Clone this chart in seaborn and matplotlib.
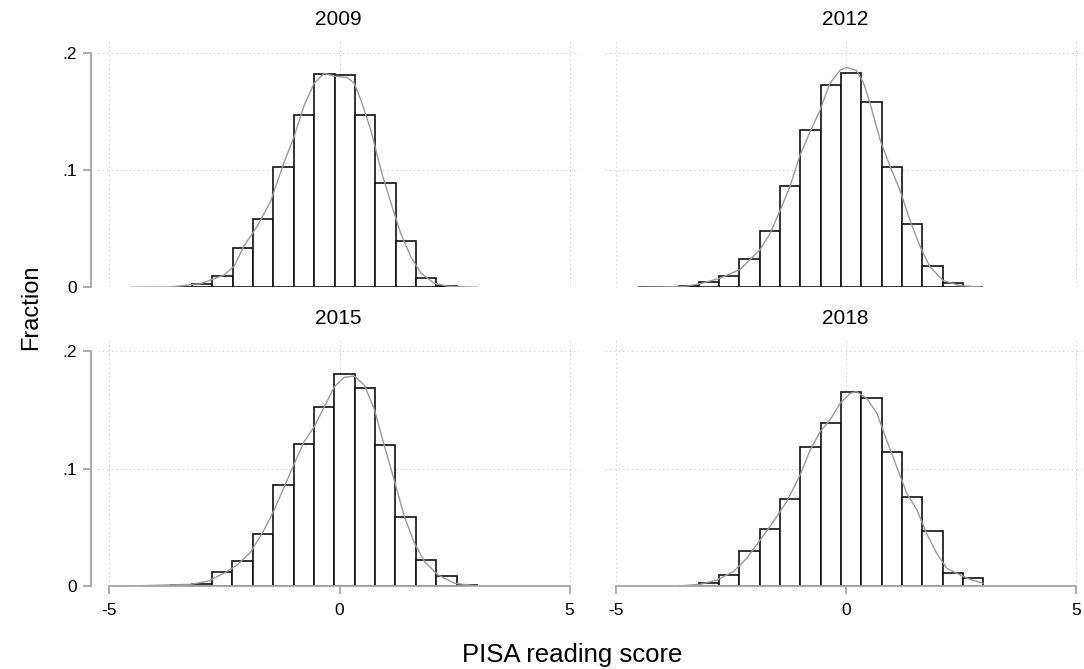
import pandas as pd
import matplotlib
matplotlib.use("Agg")
import matplotlib.pyplot as plt
import seaborn as sns

# values
years = ["2009", "2012", "2015", "2018"]

edges_2009 = [-3.651, -3.208, -2.765, -2.322, -1.879, -1.436, -0.993, -0.550,
              -0.107, 0.336, 0.779, 1.222, 1.665, 2.108, 2.551]
frac_2009 = [0.0006, 0.0026, 0.0094, 0.0338, 0.0582, 0.1028, 0.1469, 0.1818,
             0.1807, 0.1469, 0.0886, 0.0392, 0.0082, 0.0011]
kde_x_2009 = [-4.54, -3.65, -3.02, -2.51, -2.29, -2.08, -1.79, -1.50, -1.21, -0.99,
              -0.77, -0.55, -0.335, -0.12, 0.17, 0.32, 0.46, 0.68, 0.90, 1.12,
              1.33, 1.55, 1.77, 2.06, 2.35, 3.00]
kde_y_2009 = [0.0, 0.0003, 0.003, 0.0105, 0.018, 0.035, 0.052, 0.073, 0.106, 0.128,
              0.155, 0.174, 0.1824, 0.180, 0.1787, 0.174, 0.160, 0.134, 0.100, 0.0716,
              0.046, 0.026, 0.012, 0.0034, 0.0009, 0.0]

edges_2012 = [-4.526, -4.084, -3.642, -3.201, -2.759, -2.317, -1.875, -1.433, -0.992,
              -0.550, -0.108, 0.334, 0.776, 1.217, 1.659, 2.101, 2.543, 2.985]
frac_2012 = [0.0003, 0.0004, 0.0008, 0.0043, 0.0097, 0.0239, 0.0483, 0.0866, 0.1341,
             0.1724, 0.1830, 0.1577, 0.1023, 0.0540, 0.0185, 0.0037, 0.0006]
kde_x_2012 = [-4.53, -3.53, -3.17, -2.74, -2.30, -1.87, -1.65, -1.43, -1.22, -1.00,
              -0.78, -0.565, -0.35, -0.13, 0.014, 0.23, 0.38, 0.52, 0.74, 0.956,
              1.17, 1.39, 1.61, 1.82, 2.11, 2.48, 2.98]
kde_y_2012 = [0.0, 0.0006, 0.003, 0.0077, 0.0153, 0.032, 0.046, 0.066, 0.0858, 0.1128,
              0.1327, 0.151, 0.174, 0.185, 0.1875, 0.1847, 0.174, 0.157, 0.1256, 0.103,
              0.083, 0.057, 0.0347, 0.0176, 0.0057, 0.0014, 0.0]

edges_2015 = [-4.540, -4.097, -3.655, -3.212, -2.769, -2.327, -1.884, -1.441, -0.998,
              -0.556, -0.113, 0.330, 0.772, 1.215, 1.658, 2.101, 2.543, 2.986]
frac_2015 = [0.0002, 0.0003, 0.0005, 0.0020, 0.0116, 0.0210, 0.0443, 0.0862, 0.1211,
             0.1526, 0.1807, 0.1688, 0.1203, 0.0587, 0.0218, 0.0085, 0.0006]
kde_x_2015 = [-4.54, -3.23, -2.87, -2.51, -2.22, -1.93, -1.64, -1.42, -1.20, -0.98,
              -0.77, -0.55, -0.33, -0.11, 0.10, 0.32, 0.54, 0.76, 0.98, 1.19,
              1.41, 1.63, 1.85, 2.14, 2.50, 3.00]
kde_y_2015 = [0.0, 0.0014, 0.004, 0.0108, 0.018, 0.029, 0.0477, 0.0647, 0.0845, 0.1044,
              0.1228, 0.1356, 0.1526, 0.1697, 0.1776, 0.1787, 0.171, 0.150, 0.1186, 0.090,
              0.059, 0.0363, 0.0207, 0.0094, 0.0023, 0.0]

edges_2018 = [-3.642, -3.201, -2.759, -2.317, -1.875, -1.433, -0.992, -0.550, -0.108,
              0.334, 0.776, 1.217, 1.659, 2.101, 2.543, 2.985]
frac_2018 = [0.0003, 0.0023, 0.0096, 0.0298, 0.0488, 0.0738, 0.1183, 0.1387, 0.1654,
             0.1597, 0.1138, 0.0755, 0.0465, 0.0108, 0.0068]
kde_x_2018 = [-3.64, -3.17, -2.81, -2.45, -2.16, -1.87, -1.58, -1.29, -1.00, -0.78,
              -0.565, -0.35, -0.13, 0.087, 0.23, 0.45, 0.67, 0.88, 1.10, 1.32,
              1.54, 1.75, 1.97, 2.19, 2.48, 2.69, 2.98]
kde_y_2018 = [0.0, 0.0014, 0.005, 0.0122, 0.0235, 0.039, 0.0548, 0.0718, 0.0945, 0.1157,
              0.1313, 0.1413, 0.1555, 0.164, 0.1654, 0.1597, 0.147, 0.1243, 0.1016, 0.0789,
              0.0647, 0.0448, 0.0278, 0.015, 0.0094, 0.0057, 0.0023]

x_ticks = [-5, 0, 5]
x_ticklabels = ["-5", "0", "5"]
y_ticks = [0, 0.1, 0.2]
y_ticklabels = ["0", ".1", ".2"]

edges = [edges_2009, edges_2012, edges_2015, edges_2018]
fracs = [frac_2009, frac_2012, frac_2015, frac_2018]
kde_x = [kde_x_2009, kde_x_2012, kde_x_2015, kde_x_2018]
kde_y = [kde_y_2009, kde_y_2012, kde_y_2015, kde_y_2018]

sns.set_style("white")
plt.rcParams['font.family'] = ['Liberation Sans', 'DejaVu Sans']
plt.rcParams['text.color'] = 'black'

fig = plt.figure(figsize=(10.84, 6.69), dpi=100)

# panel boxes in figure fractions
positions = [[0.0904, 0.5706, 0.4435, 0.370],
             [0.5577, 0.5706, 0.4435, 0.370],
             [0.0904, 0.1241, 0.4435, 0.3705],
             [0.5577, 0.1241, 0.4435, 0.3705]]

axis_grey = "#a6a6a6"

for i, year in enumerate(years):
    ax = fig.add_axes(positions[i])
    e = edges[i]
    df = pd.DataFrame({"mid": [(a + b) / 2 for a, b in zip(e[:-1], e[1:])],
                       "frac": fracs[i]})
    sns.histplot(data=df, x="mid", weights="frac", bins=e, stat="count",
                 color="white", edgecolor="#111111", linewidth=1.2, alpha=1, ax=ax)
    sns.lineplot(x=kde_x[i], y=kde_y[i], color="#9a9a9a", linewidth=1.0, ax=ax)

    ax.set_xlim(-5.25, 5.2)
    ax.set_ylim(0, 0.211)
    ax.set_xlabel("")
    ax.set_ylabel("")
    ax.set_title(year, fontsize=15, pad=10.5, color="black")

    # dotted grid under the bars
    ax.set_axisbelow(True)
    for xv in x_ticks:
        ax.axvline(xv, color="#c8c8c8", lw=0.8, ls=(0, (1, 3)), zorder=0)
    for yv in y_ticks:
        ax.axhline(yv, color="#c8c8c8", lw=0.8, ls=(0, (1, 3)), zorder=0)

    ax.set_xticks(x_ticks)
    ax.set_xticklabels(x_ticklabels)
    ax.set_yticks(y_ticks)
    ax.set_yticklabels(y_ticklabels)

    for s in ["top", "right", "left", "bottom"]:
        ax.spines[s].set_visible(False)

    left_col = i % 2 == 0
    bottom_row = i >= 2

    if left_col:
        ax.spines["left"].set_visible(True)
        ax.spines["left"].set_color(axis_grey)
        ax.spines["left"].set_linewidth(1.3)
        ax.spines["left"].set_position(("outward", 5))
        ax.spines["left"].set_bounds(0, 0.2)
        ax.tick_params(axis="y", left=True, length=6, width=1.3, color=axis_grey,
                       labelsize=12.5, labelcolor="black", pad=4)
    else:
        ax.tick_params(axis="y", left=False, labelleft=False)

    if bottom_row:
        ax.spines["bottom"].set_visible(True)
        ax.spines["bottom"].set_color(axis_grey)
        ax.spines["bottom"].set_linewidth(1.3)
        ax.spines["bottom"].set_bounds(-5, 5)
        ax.tick_params(axis="x", bottom=True, length=6, width=1.3, color=axis_grey,
                       labelsize=12.5, labelcolor="black", pad=6)
    else:
        ax.tick_params(axis="x", bottom=False, labelbottom=False)

fig.text(0.5277, 0.0105, "PISA reading score", ha="center", va="baseline",
         fontsize=18.5, color="black")
fig.text(0.029, 0.541, "Fraction", ha="center", va="center", rotation=90,
         fontsize=17, color="black")

fig.savefig("out.png", dpi=100, facecolor="white")
